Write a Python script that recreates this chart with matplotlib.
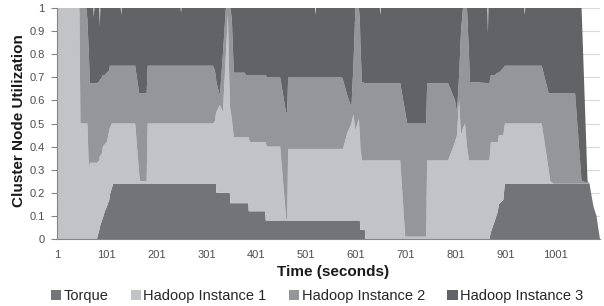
import numpy as np
import matplotlib
matplotlib.use("Agg")
import matplotlib.pyplot as plt
from matplotlib.patches import Patch

plt.rcParams['font.family'] = ['Liberation Sans', 'DejaVu Sans']

# breakpoints (seconds)
time = [1, 46, 48, 60, 62, 65, 67, 74, 75, 76,
        81, 86, 87, 88, 91, 93, 97, 101, 106, 107,
        111, 114, 129, 130, 131, 158, 166, 168, 181, 183,
        249, 250, 251, 314, 318, 320, 321, 328, 334, 340,
        344, 348, 349, 352, 356, 378, 380, 385, 386, 388,
        419, 420, 422, 449, 461, 463, 465, 519, 520, 521,
        573, 575, 584, 592, 596, 600, 604, 607, 609, 610,
        613, 619, 620, 649, 650, 651, 690, 700, 704, 742,
        744, 786, 800, 804, 808, 812, 816, 820, 824, 828,
        830, 865, 866, 867, 869, 872, 880, 886, 888, 897,
        900, 939, 940, 941, 974, 988, 991, 998, 1041, 1054,
        1066, 1070, 1073, 1078, 1084, 1088, 1091]

torque = [0, 0, 0, 0, 0, 0, 0, 0, 0, 0,
          0, .04, .05, .06, .08, .09, .12, .14, .17, .19,
          .22, .24, .24, .24, .24, .24, .24, .24, .24, .24,
          .24, .24, .24, .24, .24, .24, .20, .20, .20, .20,
          .20, .20, .155, .155, .155, .155, .155, .155, .12, .12,
          .12, .08, .08, .08, .08, .08, .08, .08, .08, .08,
          .08, .08, .08, .08, .08, .08, .08, .08, .08, .04,
          .04, .04, 0, 0, 0, 0, 0, 0, 0, 0,
          0, 0, 0, 0, 0, 0, 0, 0, 0, 0,
          0, 0, 0, 0, 0, .03, .08, .12, .15, .17,
          .24, .24, .24, .24, .24, .24, .24, .24, .24, .24,
          .24, .24, .20, .14, .10, .04, 0]

hadoop1 = [1, 1, .50, .50, .50, .30, .33, .33, .33, .33,
           .33, .30, .31, .30, .29, .31, .29, .28, .30, .29,
           .28, .26, .26, .26, .26, .26, .04, .01, .01, .26,
           .26, .26, .26, .26, .27, .30, .35, .38, .35, .60,
           .77, .38, .405, .365, .285, .285, .285, .285, .32, .30,
           .30, .34, .32, .32, .01, 0, .31, .31, .31, .31,
           .31, .31, .38, .42, .46, .39, .42, .44, .37, .36,
           .30, .30, .34, .34, .34, .34, .34, .01, .01, .01,
           .34, .34, .42, .45, .60, .45, .48, .50, .40, .34,
           .34, .34, .34, .34, .34, .39, .34, .30, .30, .28,
           .26, .26, .26, .26, .26, .06, .01, 0, 0, 0,
           0, 0, 0, 0, 0, 0, 0]

hadoop2 = [0, 0, .50, .50, .45, .50, .345, .345, .345, .345,
           .345, .34, .33, .33, .33, .31, .30, .30, .26, .27,
           .25, .25, .25, .25, .25, .25, .35, .38, .38, .25,
           .25, .25, .25, .25, .22, .16, .13, .04, .25, .20,
           .03, .42, .44, .43, .28, .28, .27, .27, .27, .29,
           .29, .29, .30, .30, .455, .47, .31, .31, .31, .31,
           .31, .30, .16, .07, .21, .53, .50, .48, .50, .45,
           .34, .335, .335, .335, .335, .335, .335, .54, .49, .49,
           .335, .335, .18, .10, .10, .45, .52, .50, .60, .46,
           .34, .335, .335, .335, .335, .29, .29, .30, .27, .29,
           .25, .25, .25, .25, .25, .33, .38, .39, .39, .01,
           .005, 0, 0, 0, 0, 0, 0]

hadoop3 = [0, 0, 0, 0, .05, .20, .325, .325, .285, .325,
           .325, .32, .23, .31, .30, .29, .29, .28, .27, .25,
           .25, .25, .25, .22, .25, .25, .37, .37, .37, .25,
           .25, .23, .25, .25, .27, .30, .32, .38, .20, 0,
           0, 0, 0, .05, .28, .28, .29, .29, .29, .29,
           .29, .29, .30, .30, .455, .45, .30, .30, .27, .30,
           .30, .31, .38, .43, .25, 0, 0, 0, .05, .15,
           .32, .325, .325, .325, .295, .325, .325, .45, .50, .50,
           .325, .325, .40, .45, .30, .10, 0, 0, 0, .20,
           .32, .325, .215, .325, .325, .29, .29, .28, .28, .26,
           .25, .25, .22, .25, .25, .37, .37, .37, .37, .75,
           .005, 0, 0, 0, 0, 0, 0]

labels = ['Torque', 'Hadoop Instance 1', 'Hadoop Instance 2', 'Hadoop Instance 3']
colors = ['#737477', '#c2c3c6', '#959699', '#626367']
xticks = [1, 101, 201, 301, 401, 501, 601, 701, 801, 901, 1001]
yticks = [0, 0.1, 0.2, 0.3, 0.4, 0.5, 0.6, 0.7, 0.8, 0.9, 1]

fig = plt.figure(figsize=(6.04, 3.06), dpi=100)
ax = fig.add_axes([57/604, 1-239/306, (600-57)/604, (239-8)/306])

ax.stackplot(time, torque, hadoop1, hadoop2, hadoop3, colors=colors,
             linewidth=0, zorder=2)

ax.set_xlim(1, 1091)
ax.set_ylim(0, 1)
ax.set_xticks(xticks)
ax.set_xticklabels([str(x) for x in xticks])
ax.set_yticks(yticks)
ax.set_yticklabels(['0'] + ['%.1f' % y for y in yticks[1:-1]] + ['1'])
ax.tick_params(axis='x', length=0, pad=8, labelsize=8, labelcolor='#4d4d4d')
ax.tick_params(axis='y', length=4, width=0.8, color='#868686', pad=5,
               labelsize=8, labelcolor='#4d4d4d')

ax.yaxis.grid(True, color='#d9d9d9', linewidth=0.8)
ax.set_axisbelow(True)
for s in ['top', 'right']:
    ax.spines[s].set_visible(False)
for s in ['left', 'bottom']:
    ax.spines[s].set_color('#868686')
    ax.spines[s].set_linewidth(0.8)
    ax.spines[s].set_zorder(3)

fig.text(19/604, 1-121/306, 'Cluster Node Utilization', rotation=90,
         ha='center', va='center', fontsize=11, fontweight='bold', color='#1a1a1a')
fig.text(333/604, 1-272/306, 'Time (seconds)', ha='center', va='center',
         fontsize=11, fontweight='bold', color='#1a1a1a')

handles = [Patch(facecolor=c, edgecolor='none') for c in colors]
fig.legend(handles, labels, loc='center', bbox_to_anchor=(317/604, 1-296/306),
           ncol=4, frameon=False, fontsize=10.5, handlelength=0.7,
           handleheight=0.7, handletextpad=0.15, columnspacing=1.55,
           labelcolor='#262626')

fig.savefig('out.png', dpi=100)
